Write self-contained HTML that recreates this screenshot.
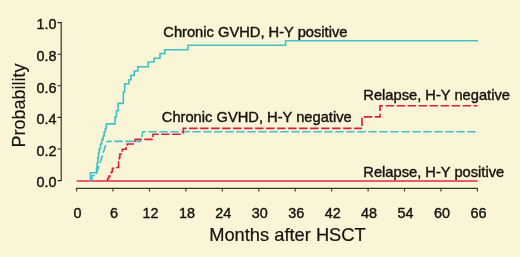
<!DOCTYPE html>
<html>
<head>
<meta charset="utf-8">
<title>Probability chart</title>
<style>
html,body{margin:0;padding:0;background:#fbf5d8;}
body{width:520px;height:257px;overflow:hidden;}
svg{display:block;will-change:transform;}
text{font-family:"Liberation Sans",Arial,Helvetica,sans-serif;fill:#15130f;stroke:#15130f;stroke-width:0.4px;}
.tk{font-size:13.9px;}.lb{font-size:14.2px;}.ax{font-size:17.9px;}.ay{font-size:18.7px;stroke-width:0.15px;}.ax{stroke-width:0.2px;}
</style>
</head>
<body>
<svg width="520" height="257" viewBox="0 0 520 257">
<rect x="0" y="0" width="520" height="257" fill="#fbf5d8"/>
<g stroke="#26261c" stroke-width="1.1" fill="none">
<path d="M57.5,22.6 H61.2 V180.6 H57.5"/>
<path d="M57.5,54.2H61.2M57.5,85.8H61.2M57.5,117.4H61.2M57.5,149.0H61.2"/>
</g>
<g stroke="#2f3d2a" stroke-width="1.1" fill="none">
<path d="M76.6,191.6V188.4H477.4V191.6"/>
<path d="M113.0,188.4V191.6M149.5,188.4V191.6M185.9,188.4V191.6M222.3,188.4V191.6M258.8,188.4V191.6M295.2,188.4V191.6M331.7,188.4V191.6M368.1,188.4V191.6M404.5,188.4V191.6M441.0,188.4V191.6"/>
</g>
<text class="tk" x="56.6" y="29.3" text-anchor="end" textLength="19.99" lengthAdjust="spacingAndGlyphs">1.0</text>
<text class="tk" x="56.6" y="60.9" text-anchor="end" textLength="19.99" lengthAdjust="spacingAndGlyphs">0.8</text>
<text class="tk" x="56.6" y="92.5" text-anchor="end" textLength="19.99" lengthAdjust="spacingAndGlyphs">0.6</text>
<text class="tk" x="56.6" y="124.1" text-anchor="end" textLength="19.99" lengthAdjust="spacingAndGlyphs">0.4</text>
<text class="tk" x="56.6" y="155.7" text-anchor="end" textLength="19.99" lengthAdjust="spacingAndGlyphs">0.2</text>
<text class="tk" x="56.6" y="187.3" text-anchor="end" textLength="19.99" lengthAdjust="spacingAndGlyphs">0.0</text>
<text class="tk" x="77.6" y="217.7" text-anchor="middle" textLength="8.01" lengthAdjust="spacingAndGlyphs">0</text>
<text class="tk" x="114.0" y="217.7" text-anchor="middle" textLength="8.01" lengthAdjust="spacingAndGlyphs">6</text>
<text class="tk" x="150.5" y="217.7" text-anchor="middle" textLength="15.99" lengthAdjust="spacingAndGlyphs">12</text>
<text class="tk" x="186.9" y="217.7" text-anchor="middle" textLength="15.99" lengthAdjust="spacingAndGlyphs">18</text>
<text class="tk" x="223.3" y="217.7" text-anchor="middle" textLength="15.99" lengthAdjust="spacingAndGlyphs">24</text>
<text class="tk" x="259.8" y="217.7" text-anchor="middle" textLength="15.99" lengthAdjust="spacingAndGlyphs">30</text>
<text class="tk" x="296.2" y="217.7" text-anchor="middle" textLength="15.99" lengthAdjust="spacingAndGlyphs">36</text>
<text class="tk" x="332.7" y="217.7" text-anchor="middle" textLength="15.99" lengthAdjust="spacingAndGlyphs">42</text>
<text class="tk" x="369.1" y="217.7" text-anchor="middle" textLength="15.99" lengthAdjust="spacingAndGlyphs">48</text>
<text class="tk" x="405.5" y="217.7" text-anchor="middle" textLength="15.99" lengthAdjust="spacingAndGlyphs">54</text>
<text class="tk" x="442.0" y="217.7" text-anchor="middle" textLength="15.99" lengthAdjust="spacingAndGlyphs">60</text>
<text class="tk" x="478.4" y="217.7" text-anchor="middle" textLength="15.99" lengthAdjust="spacingAndGlyphs">66</text>
<text class="ax" x="209.2" y="241.4" textLength="156.49" lengthAdjust="spacingAndGlyphs">Months after HSCT</text>
<text class="ay" transform="translate(25.4,147.6) rotate(-90)" textLength="84.04" lengthAdjust="spacingAndGlyphs">Probability</text>
<text class="lb" x="163.3" y="36.7" textLength="184.17" lengthAdjust="spacingAndGlyphs">Chronic GVHD, H-Y positive</text>
<text class="lb" x="161.8" y="121.8" textLength="189.89" lengthAdjust="spacingAndGlyphs">Chronic GVHD, H-Y negative</text>
<text class="lb" x="363.3" y="100.2" textLength="146.66" lengthAdjust="spacingAndGlyphs">Relapse, H-Y negative</text>
<text class="lb" x="363.3" y="177.2" textLength="140.94" lengthAdjust="spacingAndGlyphs">Relapse, H-Y positive</text>
<path d="M76.7,181H477.5" stroke="#e4294a" stroke-width="1.5" fill="none"/>
<g stroke="#40c1c5" stroke-width="1.6" fill="none" stroke-dasharray="8.4 2.6">
<path d="M92,181V175.5H95.6L96.9,172.5L98.5,167L100,162.9L101.5,158L102.3,155.8L104.7,147.7L107.2,141.4" stroke-dashoffset="0"/>
<path d="M107.2,141.4H140.8" stroke-dashoffset="3.9"/>
<path d="M140.8,141.4L142.8,131.8H476.5" stroke-dashoffset="6.7"/>
</g>
<g stroke="#db1f3c" stroke-width="1.65" fill="none" stroke-dasharray="8.4 2.6">
<path d="M107.6,181V178.5H108.8V176H111.2V172H112.4V168.2H116V167.5H118.6V162H119.2V158H119.8V154H122.3V149.2H126V146H127.3V144H134.8V139.4" stroke-dashoffset="0"/>
<path d="M134.8,139.4H153" stroke-dashoffset="1.5"/>
<path d="M153,139.4V134.2H183.3" stroke-dashoffset="8.6"/>
<path d="M183.3,134.2V128.4H362" stroke-dashoffset="10.4"/>
<path d="M362,128.4V116.9H380V105.7H477.4" stroke-dashoffset="8.7"/>
</g>
<path d="M90.4,181V172.8H96.5V167.7H97.1V163H97.8V158H98.5V153H99.3V149H100.4V144H101.8V139.5H103.2V136H104.2V132H105.3V128.5H106.3V123.9H115V116.8H116.5V110.6H118.1V103.4H123.3V92.2H124.7V83.7H129V79.8H130.9V75.4H134.3V71H137.8V66.7H148.2V62H154V58.2H160V53.6H164.8V49.7H187.9V45.3H285.6V40.8H478" stroke="#40c1c5" stroke-width="1.6" fill="none"/>
</svg>
</body>
</html>
